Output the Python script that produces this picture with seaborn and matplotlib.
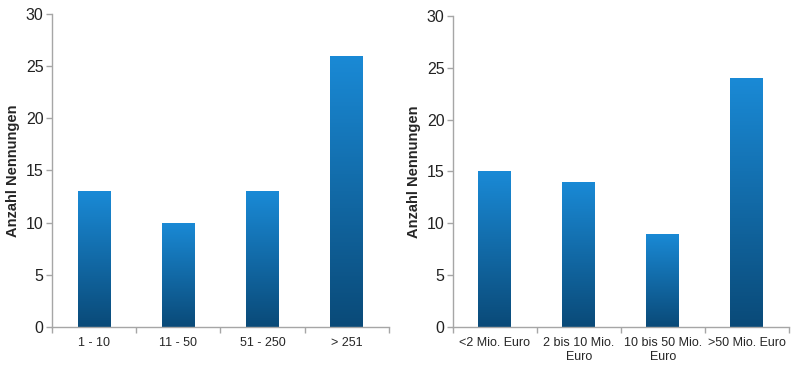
import numpy as np
import pandas as pd
import matplotlib
matplotlib.use("Agg")
import matplotlib.pyplot as plt
import seaborn as sns
from matplotlib.colors import LinearSegmentedColormap

# data
groesse_labels = ["1 - 10", "11 - 50", "51 - 250", "> 251"]
groesse_werte = [13, 10, 13, 26]

umsatz_labels = ["<2 Mio. Euro", "2 bis 10 Mio.\nEuro", "10 bis 50 Mio.\nEuro", ">50 Mio. Euro"]
umsatz_werte = [15, 14, 9, 24]

y_ticks = [0, 5, 10, 15, 20, 25, 30]

sns.set_style("white")
plt.rcParams["font.family"] = ["Liberation Sans", "DejaVu Sans"]

grad = LinearSegmentedColormap.from_list("blau", ["#0a4a78", "#1a8ad6"])
spine_col = "#a6a6a6"


def gradient_bars(ax):
    ymax = ax.get_ylim()[1]
    for bar in ax.patches:
        x0, y0 = bar.get_x(), bar.get_y()
        w, h = bar.get_width(), bar.get_height()
        img = ax.imshow(
            np.linspace(0, 1, 256).reshape(-1, 1),
            cmap=grad,
            origin="lower",
            aspect="auto",
            extent=[x0, x0 + w, y0, y0 + h],
            zorder=bar.get_zorder(),
        )
        img.set_clip_path(bar)
        bar.set_facecolor("none")
    ax.set_xlim(-0.5, 3.5)
    ax.set_ylim(0, ymax)


def panel(ax, labels, values):
    df = pd.DataFrame({"kat": labels, "n": values})
    sns.barplot(data=df, x="kat", y="n", ax=ax, width=0.39,
                color="#1a8ad6", edgecolor="none")
    ax.set_ylim(0, 30)
    gradient_bars(ax)
    ax.set_yticks(y_ticks)
    ax.set_xlabel("")
    ax.set_ylabel("Anzahl Nennungen", fontsize=10.5, fontweight="bold")
    ax.set_xticks(range(len(labels)))
    ax.set_xticklabels(labels, fontsize=9, linespacing=1.25)
    ax.set_xticks(np.arange(-0.5, 4, 1), minor=True)
    ax.tick_params(axis="x", which="major", length=0, pad=7, bottom=True)
    ax.tick_params(axis="x", which="minor", length=4, width=1, color=spine_col,
                   direction="out", bottom=True)
    ax.tick_params(axis="y", length=4, width=1, color=spine_col, direction="out",
                   labelsize=11.5, labelcolor="#222222", pad=2, left=True)
    sns.despine(ax=ax)
    for s in ["left", "bottom"]:
        ax.spines[s].set_color(spine_col)
        ax.spines[s].set_linewidth(1.0)


fig = plt.figure(figsize=(8, 3.74), dpi=100)
ax1 = fig.add_axes([0.065, 0.126, 0.421, 0.837])
ax2 = fig.add_axes([0.566, 0.126, 0.42, 0.831])

panel(ax1, groesse_labels, groesse_werte)
panel(ax2, umsatz_labels, umsatz_werte)

fig.savefig("out.png", dpi=100)
